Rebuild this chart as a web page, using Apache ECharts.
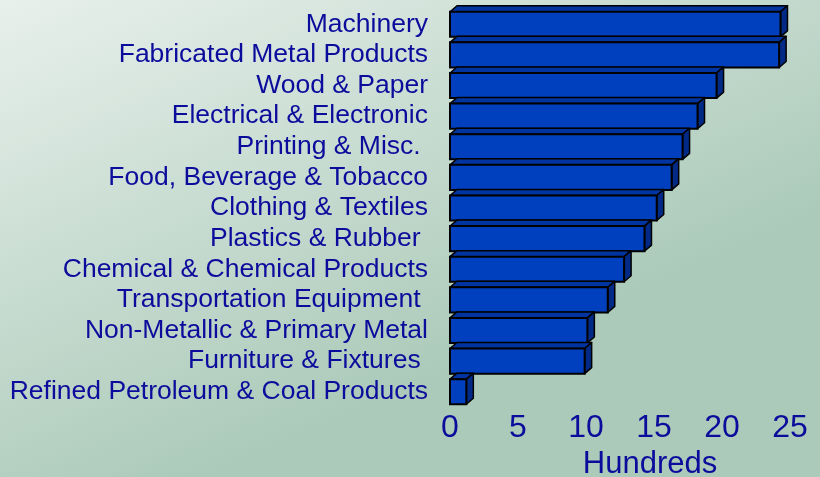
<!DOCTYPE html>
<html>
<head>
<meta charset="utf-8">
<script src="https://cdn.jsdelivr.net/npm/echarts@6/dist/echarts.min.js"></script>
<style>
  html, body { margin: 0; padding: 0; }
  #chart { width: 820px; height: 477px; }
</style>
</head>
<body>
<div id="chart"></div>
<script>
const categories = [
  'Machinery',
  'Fabricated Metal Products',
  'Wood & Paper',
  'Electrical & Electronic',
  'Printing & Misc. ',
  'Food, Beverage & Tobacco',
  'Clothing & Textiles',
  'Plastics & Rubber ',
  'Chemical & Chemical Products',
  'Transportation Equipment ',
  'Non-Metallic & Primary Metal',
  'Furniture & Fixtures ',
  'Refined Petroleum & Coal Products'
]
const values = [24.3, 24.2, 19.6, 18.2, 17.1, 16.3, 15.2, 14.3, 12.8, 11.6, 10.1, 9.9, 1.2]
const tickValues = [0, 5, 10, 15, 20, 25]

const textColor = '#0c0c9c'
const chart = echarts.init(document.getElementById('chart'))

// front face + top + right side, to mimic the old 3D bar look
function renderBar(params, api) {
  const cat = api.value(1)
  const start = api.coord([0, cat])
  const end = api.coord([api.value(0), cat])
  const h = api.size([0, 1])[1] * 0.82
  const x0 = start[0]
  const x1 = end[0]
  const y0 = start[1] - h / 2
  const y1 = start[1] + h / 2
  const dx = 7
  const dy = 6
  const edge = { stroke: '#000', lineWidth: 1.5, lineJoin: 'round' }
  return {
    type: 'group',
    children: [
      {
        type: 'polygon',
        shape: { points: [[x0, y0], [x0 + dx, y0 - dy], [x1 + dx, y0 - dy], [x1, y0]] },
        style: Object.assign({ fill: '#0034a0' }, edge)
      },
      {
        type: 'polygon',
        shape: { points: [[x1, y0], [x1 + dx, y0 - dy], [x1 + dx, y1 - dy], [x1, y1]] },
        style: Object.assign({ fill: '#002a85' }, edge)
      },
      {
        type: 'rect',
        shape: { x: x0, y: y0, width: x1 - x0, height: h },
        style: { fill: '#0040bf', stroke: '#000', lineWidth: 2 }
      }
    ]
  }
}

const option = {
  animation: false,
  backgroundColor: {
    type: 'linear', x: 0, y: 0, x2: 0.25, y2: 1,
    colorStops: [
      { offset: 0, color: '#e8f0ec' },
      { offset: 1, color: '#abcab9' }
    ]
  },
  grid: { left: 450, right: 30, top: 9, bottom: 70, outerBoundsMode: 'none' },
  xAxis: {
    type: 'value',
    min: 0,
    max: 25,
    interval: 5,
    name: 'Hundreds',
    nameLocation: 'middle',
    nameGap: 42,
    nameTextStyle: { color: textColor, fontSize: 31, fontFamily: 'Liberation Sans', padding: [0, 0, 0, 60] },
    axisLine: { show: false },
    axisTick: { show: false },
    splitLine: { show: false },
    axisLabel: {
      color: textColor,
      fontSize: 32,
      fontFamily: 'Liberation Sans',
      margin: 5,
      hideOverlap: false,
      formatter: v => (tickValues.includes(v) ? String(v) : '')
    }
  },
  yAxis: {
    type: 'category',
    data: categories,
    inverse: true,
    axisLine: { show: false },
    axisTick: { show: false },
    axisLabel: {
      color: textColor,
      fontSize: 26.5,
      fontFamily: 'Liberation Sans',
      margin: 22,
      interval: 0,
      hideOverlap: false
    }
  },
  series: [{
    type: 'custom',
    renderItem: renderBar,
    encode: { x: 0, y: 1 },
    data: values.map((v, i) => [v, i])
  }]
}

chart.setOption(option)
</script>
</body>
</html>
